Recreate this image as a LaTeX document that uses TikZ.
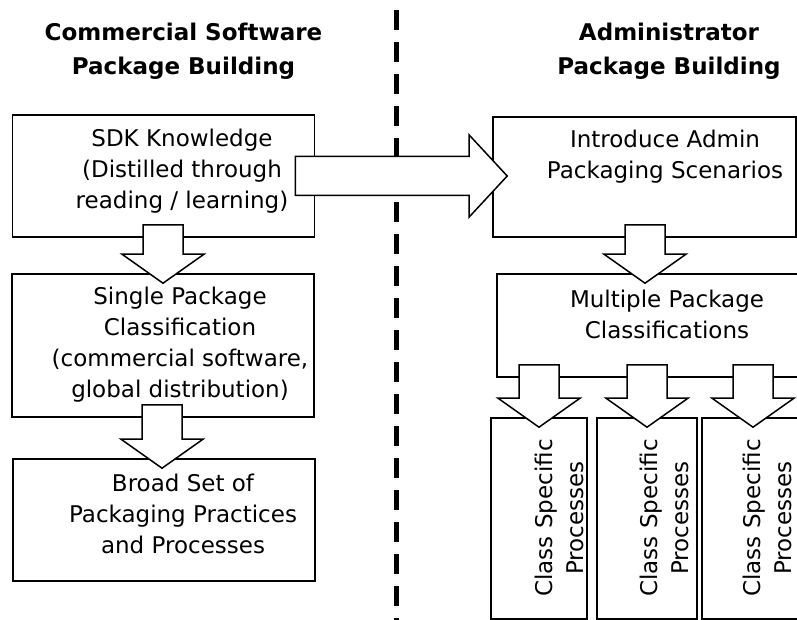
\documentclass[tikz,border=0pt]{standalone}
\usepackage{fontspec}
\setmainfont{DejaVu Sans}
\usetikzlibrary{calc}

\newcommand\blockdown[3]{%
    \draw[blockarrow] let \p1=(#1.south), \p2=(#2.north), \p3=(#3,0) in
      (\x3-20pt,\y1+13pt) -- (\x3-20pt,\y2+19pt) -- (\x3-41pt,\y2+19pt)
      -- (\x3,\y2-10pt) -- (\x3+41pt,\y2+19pt) -- (\x3+20pt,\y2+19pt)
      -- (\x3+20pt,\y1+13pt) -- cycle;}
\newcommand\blockright[2]{%
    \draw[blockarrow] let \p1=(#1.east), \p2=(#2.west) in
      (\x1-20pt,\y1+19.5pt) -- (\x2-23pt,\y1+19.5pt) -- (\x2-23pt,\y1+41pt)
      -- (\x2+15pt,\y1) -- (\x2-23pt,\y1-41pt) -- (\x2-23pt,\y1-19.5pt)
      -- (\x1-20pt,\y1-19.5pt) -- cycle;}

\begin{document}
\begin{tikzpicture}[x=1pt, y=-1pt]
    \tikzstyle{box}=[draw, line width=1.6pt, inner sep=0pt]
    \tikzstyle{txt}=[font=\fontsize{23}{31}\selectfont, align=center, inner sep=0pt]
    \tikzstyle{title}=[font=\fontsize{23}{34}\selectfont\bfseries, align=center, inner sep=0pt]
    \tikzstyle{blockarrow}=[draw, fill=white, line width=1.5pt, line join=miter]
    \useasboundingbox (0,0) rectangle (797,620);
    \clip (0,0) rectangle (797,620);
    % left side
    \node[title] (lefttitle) at (183.5,51) {Commercial Software\\Package Building};
    \node[box, minimum width=302, minimum height=122] (sdk) at (163.5,176) {};
    \node[box, minimum width=302, minimum height=143] (single) at (163,345.5) {};
    \node[box, minimum width=302, minimum height=122] (broad) at (164,520) {};
    \node[txt] (sdktxt) at (182,171) {SDK Knowledge\\(Distilled through\\reading / learning)};
    \node[txt] (singletxt) at (180,345) {Single Package\\Classification\\(commercial software,\\global distribution)};
    \node[txt] (broadtxt) at (183,514) {Broad Set of\\Packaging Practices\\and Processes};
    % right side
    \node[title] (righttitle) at (669,51) {Administrator\\Package Building};
    \node[box, minimum width=303, minimum height=120] (intro) at (644.5,177) {};
    \node[box, minimum width=320, minimum height=103] (multi) at (657,325.5) {};
    \node[box, minimum width=96, minimum height=201] (classa) at (539,518.5) {};
    \node[box, minimum width=100, minimum height=201] (classb) at (647,518.5) {};
    \node[box, minimum width=100, minimum height=201] (classc) at (752,518.5) {};
    \node[txt] (introtxt) at (665,157) {Introduce Admin\\Packaging Scenarios};
    \node[txt] (multitxt) at (667,314) {Multiple Package\\Classifications};
    \node[txt, rotate=90] (classatxt) at (559,518) {Class Specific\\Processes};
    \node[txt, rotate=90] (classbtxt) at (664,518) {Class Specific\\Processes};
    \node[txt, rotate=90] (classctxt) at (767,518) {Class Specific\\Processes};
    % divider
    \draw[line width=5pt, dash pattern=on 20pt off 12pt] (396,10) -- (396,620);
    % block arrows
    \blockdown{sdk}{single}{163}
    \blockdown{single}{broad}{162}
    \blockdown{intro}{multi}{645}
    \blockdown{multi}{classa}{539}
    \blockdown{multi}{classb}{647}
    \blockdown{multi}{classc}{753}
    \blockright{sdk}{intro}
\end{tikzpicture}
\end{document}
